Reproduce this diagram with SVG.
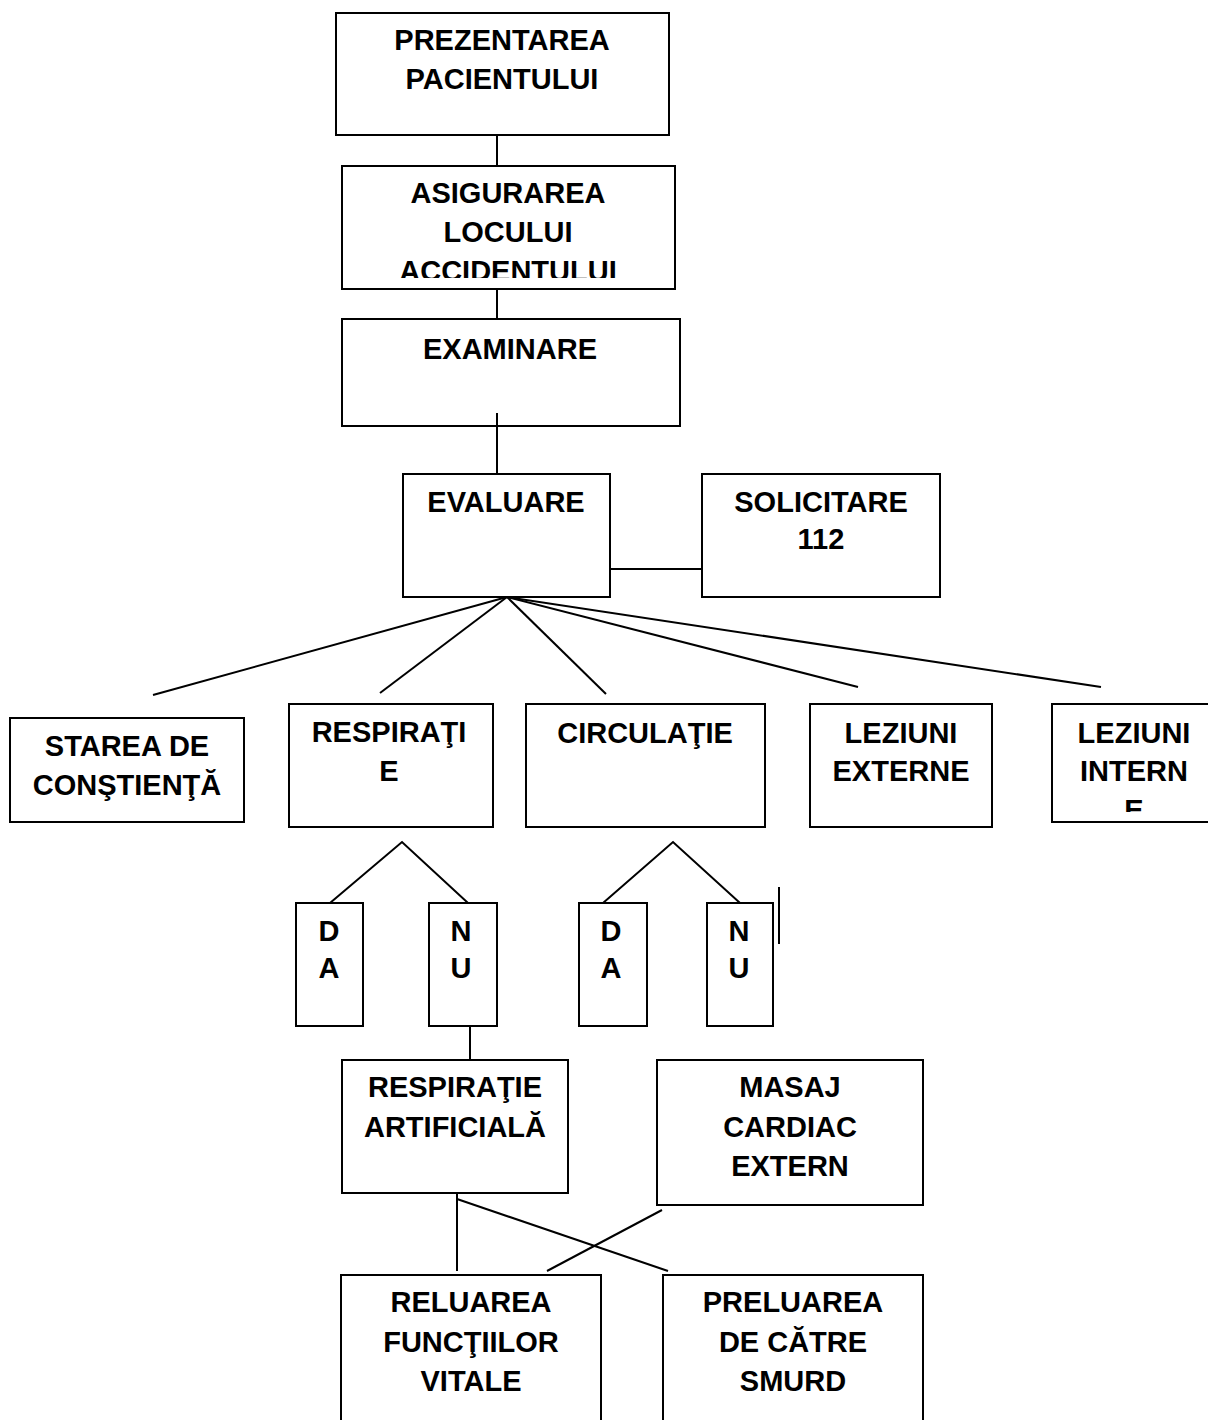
<svg xmlns="http://www.w3.org/2000/svg" width="1208" height="1420" viewBox="0 0 1208 1420">
<style>
.box{fill:#fff;stroke:#000;stroke-width:2}
.ln{fill:none;stroke:#000;stroke-width:2}
text{font-family:"Liberation Sans",Arial,sans-serif;font-weight:bold;font-size:29px;fill:#000;text-anchor:middle}
</style>
<defs>
<clipPath id="clipAsig"><rect x="342" y="166" width="333" height="112"/></clipPath>
<clipPath id="clipLezInt"><rect x="1052" y="704" width="160" height="108"/></clipPath>
</defs>
<rect x="0" y="0" width="1208" height="1420" fill="#fff"/>
<g id="connectors">
<line class="ln" x1="497" y1="135" x2="497" y2="166"/>
<line class="ln" x1="497" y1="289" x2="497" y2="319"/>
<line class="ln" x1="497" y1="413" x2="497" y2="474"/>
<line class="ln" x1="610" y1="569" x2="702" y2="569"/>
<line class="ln" x1="507" y1="597" x2="153" y2="695"/>
<line class="ln" x1="507" y1="597" x2="380" y2="693"/>
<line class="ln" x1="507" y1="597" x2="606" y2="694"/>
<line class="ln" x1="507" y1="597" x2="858" y2="687"/>
<line class="ln" x1="507" y1="597" x2="1101" y2="687"/>
<polyline class="ln" points="330,903 402,842 468,903"/>
<polyline class="ln" points="603,903 673,842 740,903"/>
<line class="ln" x1="779" y1="887" x2="779" y2="944"/>
<line class="ln" x1="470" y1="1026" x2="470" y2="1060"/>
<line class="ln" x1="457" y1="1189" x2="457" y2="1271"/>
<line class="ln" x1="457" y1="1199" x2="668" y2="1271"/>
<line class="ln" x1="662" y1="1210" x2="547" y2="1271"/>
</g>
<g id="prezentarea">
<rect class="box" x="336" y="13" width="333" height="122"/>
<text x="502" y="50">PREZENTAREA</text>
<text x="502" y="89">PACIENTULUI</text>
</g>
<g id="asigurarea">
<rect class="box" x="342" y="166" width="333" height="123"/>
<g clip-path="url(#clipAsig)">
<text x="508" y="203">ASIGURAREA</text>
<text x="508" y="242">LOCULUI</text>
<text x="508" y="281">ACCIDENTULUI</text>
</g>
</g>
<g id="examinare">
<rect class="box" x="342" y="319" width="338" height="107"/>
<text x="510" y="359">EXAMINARE</text>
</g>
<line class="ln" x1="497" y1="413" x2="497" y2="426"/>
<g id="evaluare">
<rect class="box" x="403" y="474" width="207" height="123"/>
<text x="506" y="512">EVALUARE</text>
</g>
<g id="solicitare">
<rect class="box" x="702" y="474" width="238" height="123"/>
<text x="821" y="512">SOLICITARE</text>
<text x="821" y="549">112</text>
</g>
<g id="starea">
<rect class="box" x="10" y="718" width="234" height="104"/>
<text x="127" y="756">STAREA DE</text>
<text x="127" y="795">CONŞTIENŢĂ</text>
</g>
<g id="respiratie">
<rect class="box" x="289" y="704" width="204" height="123"/>
<text x="389" y="742">RESPIRAŢI</text>
<text x="389" y="781">E</text>
</g>
<g id="circulatie">
<rect class="box" x="526" y="704" width="239" height="123"/>
<text x="645" y="743">CIRCULAŢIE</text>
</g>
<g id="leziuni-externe">
<rect class="box" x="810" y="704" width="182" height="123"/>
<text x="901" y="743">LEZIUNI</text>
<text x="901" y="781">EXTERNE</text>
</g>
<g id="leziuni-interne">
<rect class="box" x="1052" y="704" width="170" height="118"/>
<g clip-path="url(#clipLezInt)">
<text x="1134" y="743">LEZIUNI</text>
<text x="1134" y="781">INTERN</text>
<text x="1134" y="820">E</text>
</g>
</g>
<g id="da1">
<rect class="box" x="296" y="903" width="67" height="123"/>
<text x="329" y="941">D</text>
<text x="329" y="978">A</text>
</g>
<g id="nu1">
<rect class="box" x="429" y="903" width="68" height="123"/>
<text x="461" y="941">N</text>
<text x="461" y="978">U</text>
</g>
<g id="da2">
<rect class="box" x="579" y="903" width="68" height="123"/>
<text x="611" y="941">D</text>
<text x="611" y="978">A</text>
</g>
<g id="nu2">
<rect class="box" x="707" y="903" width="66" height="123"/>
<text x="739" y="941">N</text>
<text x="739" y="978">U</text>
</g>
<g id="respiratie-artificiala">
<rect class="box" x="342" y="1060" width="226" height="133"/>
<text x="455" y="1097">RESPIRAŢIE</text>
<text x="455" y="1137">ARTIFICIALĂ</text>
</g>
<g id="masaj">
<rect class="box" x="657" y="1060" width="266" height="145"/>
<text x="790" y="1097">MASAJ</text>
<text x="790" y="1137">CARDIAC</text>
<text x="790" y="1176">EXTERN</text>
</g>
<g id="reluarea">
<rect class="box" x="341" y="1275" width="260" height="160"/>
<text x="471" y="1312">RELUAREA</text>
<text x="471" y="1352">FUNCŢIILOR</text>
<text x="471" y="1391">VITALE</text>
</g>
<g id="preluarea">
<rect class="box" x="663" y="1275" width="260" height="160"/>
<text x="793" y="1312">PRELUAREA</text>
<text x="793" y="1352">DE CĂTRE</text>
<text x="793" y="1391">SMURD</text>
</g>
</svg>
